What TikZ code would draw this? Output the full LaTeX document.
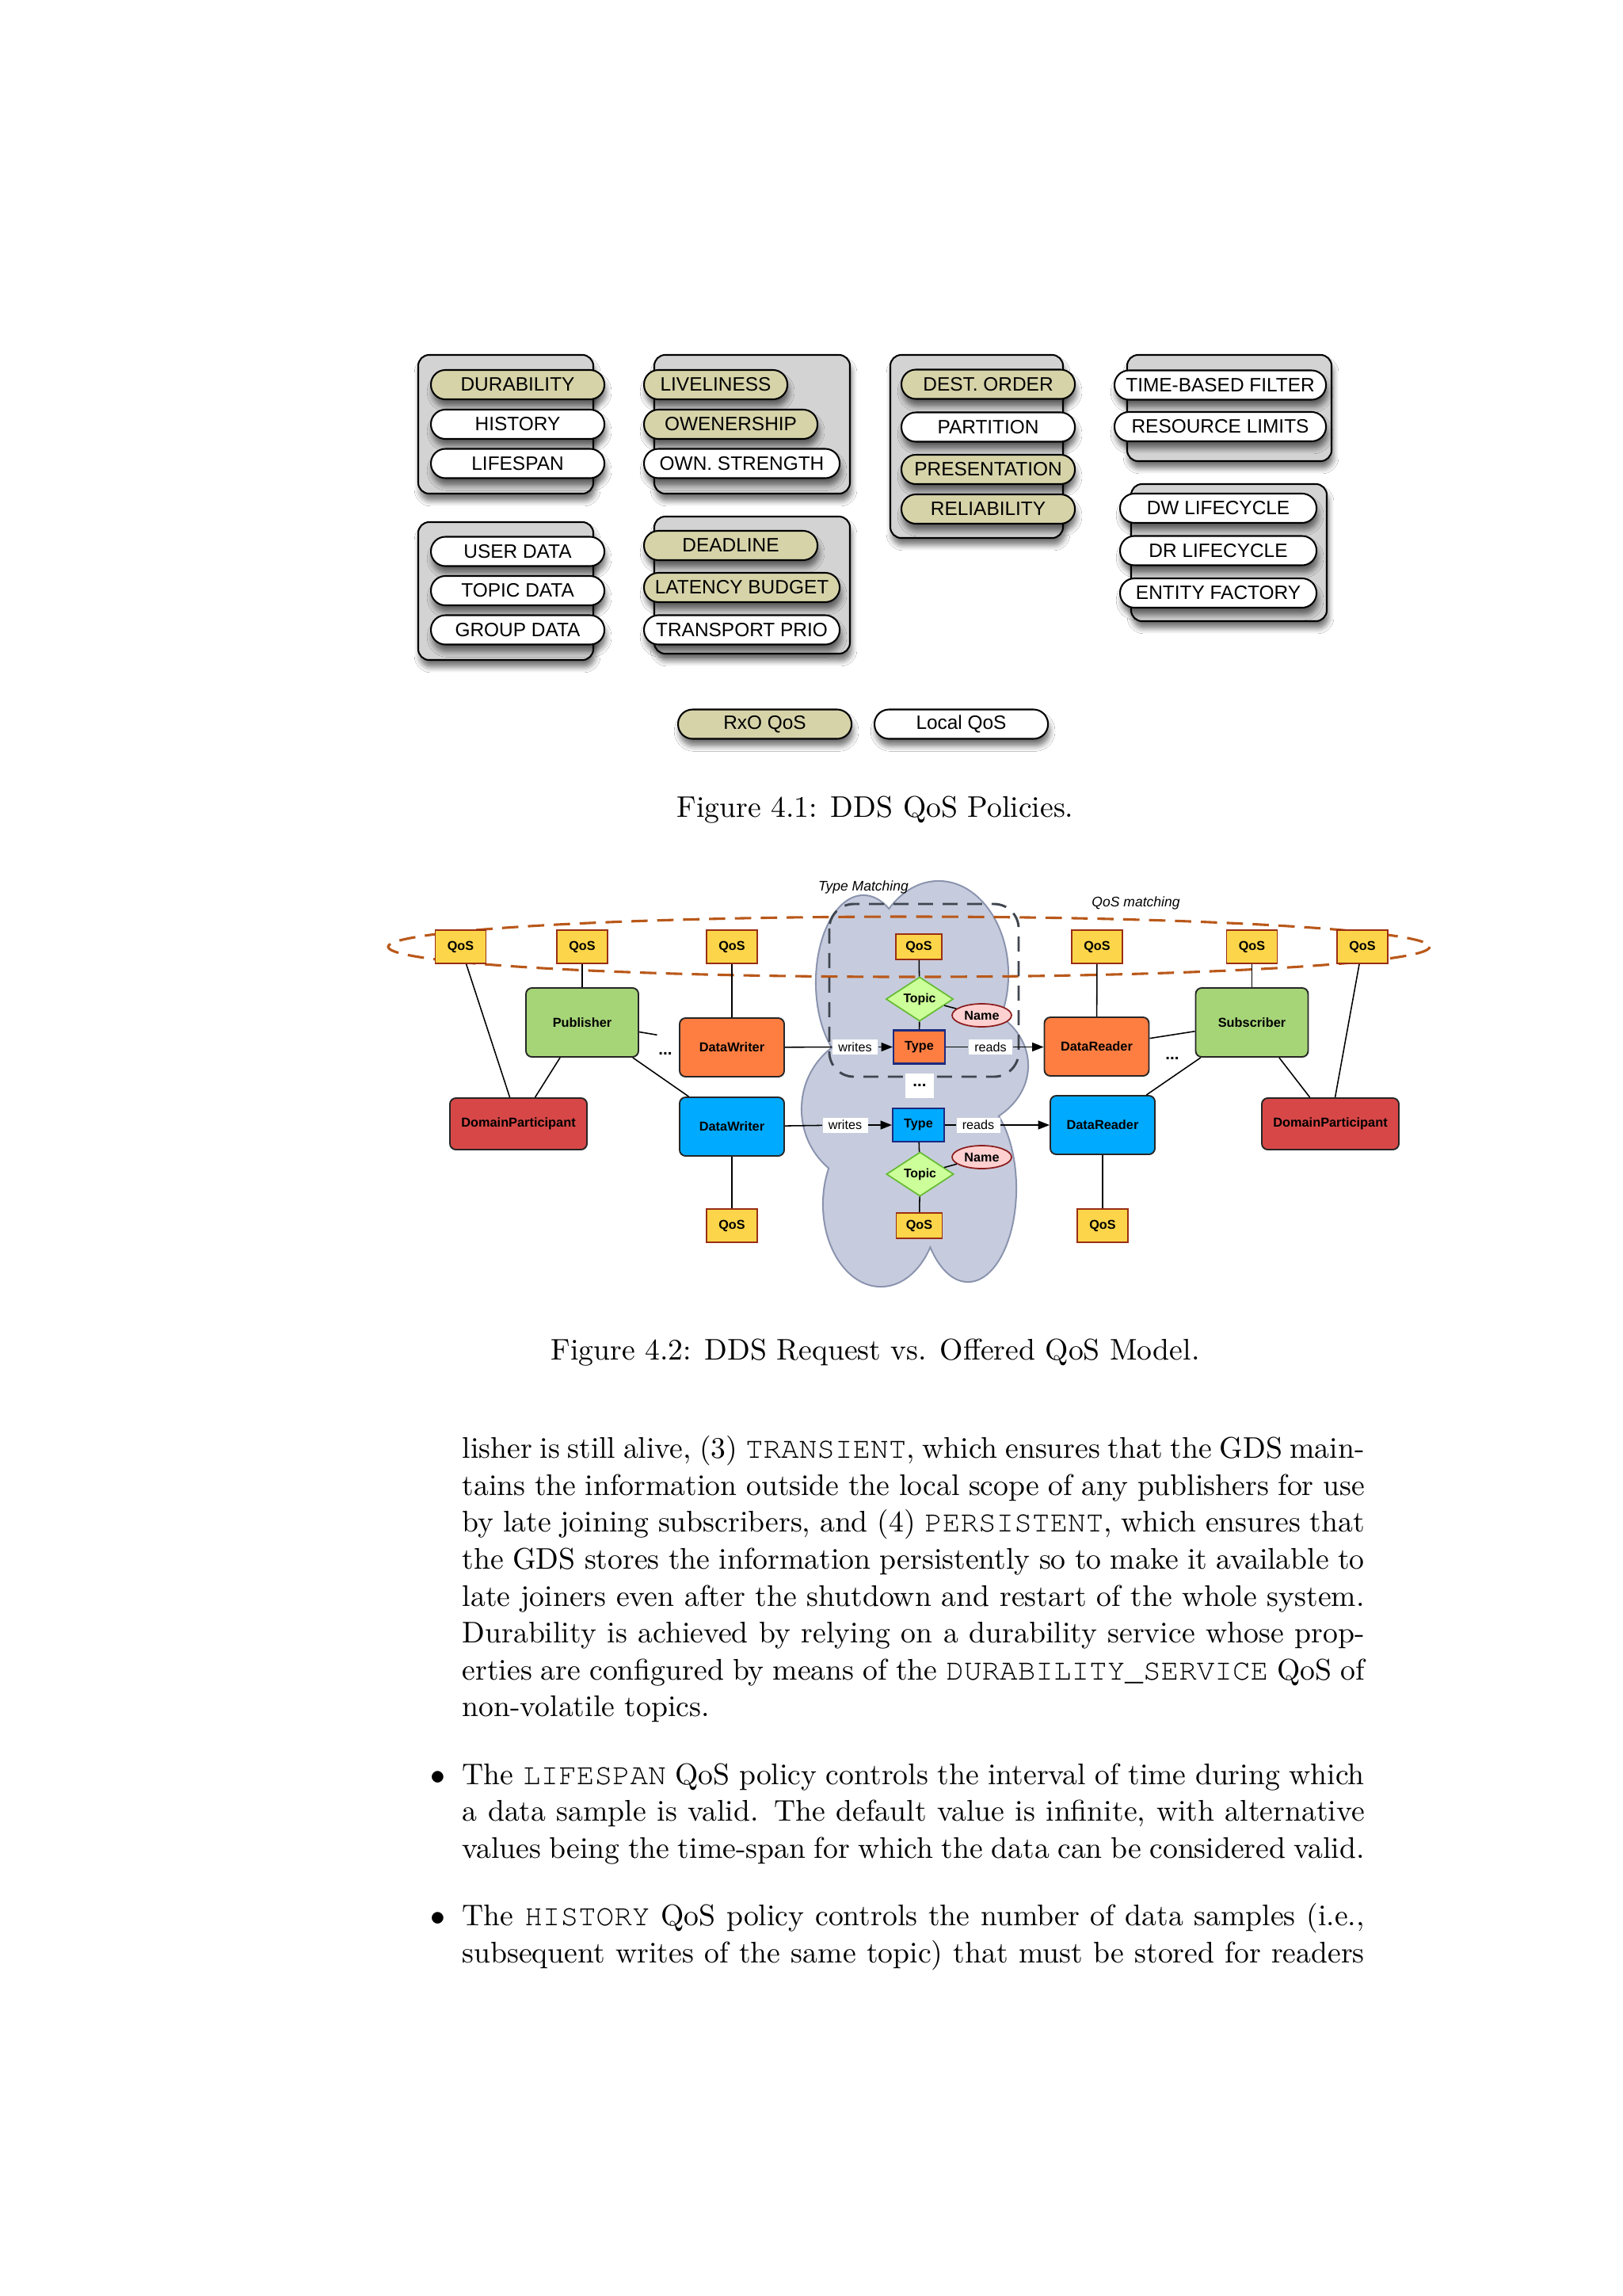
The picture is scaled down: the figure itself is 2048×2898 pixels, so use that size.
\documentclass[tikz,border=0pt]{standalone}
\usepackage[T1]{fontenc}
\usepackage{fontspec}
\newfontfamily\hv{Liberation Sans}
\usepackage{tikz}
\usetikzlibrary{arrows.meta, shapes.geometric, shadows.blur, calc}

\definecolor{khaki}{HTML}{D6D3A9}
\definecolor{boxgray}{HTML}{D3D3D3}
\definecolor{qosyellow}{HTML}{FDD54A}
\definecolor{qosedge}{HTML}{9A2E14}
\definecolor{entgreen}{HTML}{A6D578}
\definecolor{entorange}{HTML}{FE7E42}
\definecolor{entblue}{HTML}{00AAFF}
\definecolor{entred}{HTML}{D84747}
\definecolor{typeedge}{HTML}{1C2A80}
\definecolor{topicfill}{HTML}{CCFF99}
\definecolor{topicedge}{HTML}{66BB33}
\definecolor{namefill}{HTML}{FFD0D0}
\definecolor{nameedge}{HTML}{8B1C1C}
\definecolor{cloudfill}{HTML}{C6CCDD}
\definecolor{cloudedge}{HTML}{8A93AE}
\definecolor{matchorange}{HTML}{B9581A}
\definecolor{matchgray}{HTML}{40464F}

\newcommand{\pu}{0.29066pt}
\newcommand{\jline}[1]{\makebox[331.1pt][s]{#1}}
\newcommand{\qosword}[1]{{\fontencoding{T1}\fontfamily{pcr}\selectfont #1}}

\begin{document}
\begin{tikzpicture}[x=\pu, y=-\pu, >=Stealth,
  softshadow/.style={blur shadow={shadow xshift=0.6pt, shadow yshift=-2.6pt,
      shadow blur radius=2pt, shadow blur steps=6, shadow opacity=55}},
  groupbox/.style={draw=black, line width=0.6pt, fill=boxgray, rounded corners=4pt, softshadow},
  pill/.style={draw=black, line width=0.6pt, rounded corners=5.3pt, minimum height=37*\pu,
      inner sep=0pt, anchor=west, font=\hv\fontsize{7.1}{8}\selectfont, softshadow},
  rxo/.style={pill, fill=khaki},
  loc/.style={pill, fill=white},
  qos/.style={draw=qosedge, fill=qosyellow, line width=0.5pt, minimum width=64*\pu,
      minimum height=42*\pu, inner sep=0pt, font=\hv\bfseries\fontsize{4.7}{5}\selectfont},
  qossmall/.style={qos, minimum width=58*\pu, minimum height=32*\pu},
  entity/.style={draw=black!85, line width=0.55pt, rounded corners=2.2pt, inner sep=0pt,
      font=\hv\bfseries\fontsize{4.75}{5}\selectfont},
  cont/.style={entity, fill=entgreen, minimum width=142*\pu, minimum height=87*\pu},
  endpoint/.style={entity, minimum width=132*\pu, minimum height=74*\pu},
  participant/.style={entity, fill=entred, minimum width=173*\pu, minimum height=65*\pu},
  typebox/.style={draw=typeedge, line width=0.6pt, minimum width=65*\pu, minimum height=42*\pu,
      inner sep=0pt, font=\hv\bfseries\fontsize{4.7}{5}\selectfont},
  topic/.style={diamond, draw=topicedge, fill=topicfill, line width=0.5pt, minimum width=85*\pu,
      minimum height=42*\pu, inner sep=0pt, font=\hv\bfseries\fontsize{4.6}{5}\selectfont},
  tname/.style={ellipse, draw=nameedge, fill=namefill, line width=0.5pt, minimum width=75*\pu,
      minimum height=29*\pu, inner sep=0pt, font=\hv\bfseries\fontsize{4.7}{5}\selectfont},
  verb/.style={fill=white, minimum width=57*\pu, minimum height=19*\pu, inner sep=0pt,
      font=\hv\fontsize{4.7}{5}\selectfont},
  link/.style={draw=black, line width=0.45pt},
  flow/.style={link, -{Triangle[length=4.2pt, width=3.2pt]}},
  note/.style={font=\hv\itshape\fontsize{5.1}{6}\selectfont, inner sep=0pt},
  bodyline/.style={anchor=base west, inner sep=0pt, font=\fontsize{10.95}{13.6}\selectfont},
  caption/.style={anchor=base, inner sep=0pt, font=\fontsize{10.95}{13.6}\selectfont}]

  \useasboundingbox (0,0) rectangle (2048,2898);
  \fill[white] (0,0) rectangle (2048,2898);

  % ---- Figure 4.1: policy groups ----
  \draw[groupbox] (528,448) rectangle (749,623);
  \node[rxo, minimum width=219*\pu] (durability) at (543,485.5) {DURABILITY};
  \node[loc, minimum width=219*\pu] (history) at (543,535.5) {HISTORY};
  \node[loc, minimum width=219*\pu] (lifespan) at (543,585) {LIFESPAN};

  \draw[groupbox] (826,448) rectangle (1073,623);
  \node[rxo, minimum width=181*\pu] (liveliness) at (812,485.5) {LIVELINESS};
  \node[rxo, minimum width=219*\pu] (ownership) at (812,535.5) {OWENERSHIP};
  \node[loc, minimum width=247*\pu] (ownstrength) at (812,585) {OWN. STRENGTH};

  \draw[groupbox] (528,659) rectangle (749,833);
  \node[loc, minimum width=219*\pu] (userdata) at (543,696) {USER DATA};
  \node[loc, minimum width=219*\pu] (topicdata) at (543,745.5) {TOPIC DATA};
  \node[loc, minimum width=219*\pu] (groupdata) at (543,795) {GROUP DATA};

  \draw[groupbox] (826,652) rectangle (1073,825);
  \node[rxo, minimum width=219*\pu] (deadline) at (812,688.5) {DEADLINE};
  \node[rxo, minimum width=247*\pu] (latency) at (812,741.5) {LATENCY BUDGET};
  \node[loc, minimum width=247*\pu] (transport) at (812,795) {TRANSPORT PRIO};

  \draw[groupbox] (1124,448) rectangle (1342,679);
  \node[rxo, minimum width=219*\pu] (destorder) at (1137,485) {DEST. ORDER};
  \node[loc, minimum width=219*\pu] (partition) at (1137,539) {PARTITION};
  \node[rxo, minimum width=219*\pu] (presentation) at (1137,592.5) {PRESENTATION};
  \node[rxo, minimum width=219*\pu] (reliability) at (1137,642.5) {RELIABILITY};

  \draw[groupbox] (1423,448) rectangle (1681,582);
  \node[loc, minimum width=267*\pu] (timefilter) at (1406,486) {TIME-BASED FILTER};
  \node[loc, minimum width=267*\pu] (reslimits) at (1406,538.5) {RESOURCE LIMITS};

  \draw[groupbox] (1428,611) rectangle (1675,784);
  \node[loc, minimum width=248*\pu] (dwlife) at (1413,641.5) {DW LIFECYCLE};
  \node[loc, minimum width=248*\pu] (drlife) at (1413,695) {DR LIFECYCLE};
  \node[loc, minimum width=248*\pu] (entityfactory) at (1413,748.5) {ENTITY FACTORY};

  % ---- legend ----
  \node[rxo, minimum width=219*\pu] (rxokey) at (855,914) {RxO QoS};
  \node[loc, minimum width=219*\pu] (localkey) at (1103,914) {Local QoS};

  \node[caption] (cap1) at (1105,1031) {Figure 4.1: DDS QoS Policies.};

  % ---- Figure 4.2: cloud of topic types ----
  \fill[cloudfill, preaction={draw=cloudedge, line width=1.2pt}]
    (1090,1240) ellipse [x radius=59, y radius=109]
    (1185,1230) ellipse [x radius=87, y radius=117]
    (1200,1345) ellipse [x radius=97, y radius=80]
    (1105,1400) ellipse [x radius=92, y radius=95]
    (1222,1500) ellipse [x radius=60, y radius=117]
    (1112,1520) ellipse [x radius=72, y radius=103]
    (1160,1380) ellipse [x radius=100, y radius=190];

  % ---- matching regions ----
  \draw[matchorange, line width=0.9pt, dash pattern=on 6pt off 3.5pt]
    (1147.5,1195) ellipse [x radius=657.5, y radius=38];
  \draw[matchgray, line width=0.85pt, dash pattern=on 5.5pt off 3.5pt, rounded corners=9pt]
    (1047,1141) rectangle (1286,1359);
  \node[note] (typematch) at (1090,1120) {Type Matching};
  \node[note] (qosmatch) at (1434,1140) {QoS matching};

  % ---- QoS boxes ----
  \node[qos] (q1) at (581.5,1195) {QoS};
  \node[qos] (q2) at (735,1195) {QoS};
  \node[qos] (q3) at (924,1195) {QoS};
  \node[qossmall] (qT) at (1160,1195) {QoS};
  \node[qos] (q4) at (1385,1195) {QoS};
  \node[qos] (q5) at (1580.5,1195) {QoS};
  \node[qos] (q6) at (1720,1195) {QoS};
  \node[qos] (qDW) at (924,1547) {QoS};
  \node[qossmall] (qB) at (1160.5,1547) {QoS};
  \node[qos] (qDR) at (1392,1547) {QoS};

  % ---- entities ----
  \node[cont] (pub) at (735,1290.5) {Publisher};
  \node[cont] (sub) at (1580.5,1290.5) {Subscriber};
  \node[endpoint, fill=entorange] (dwO) at (924,1322) {DataWriter};
  \node[endpoint, fill=entblue] (dwB) at (924,1422) {DataWriter};
  \node[endpoint, fill=entorange] (drO) at (1384.5,1321) {DataReader};
  \node[endpoint, fill=entblue] (drB) at (1392,1420) {DataReader};
  \node[participant] (dpL) at (654.5,1418.5) {DomainParticipant};
  \node[participant] (dpR) at (1679.5,1418.5) {DomainParticipant};

  % ---- topics ----
  \node[typebox, fill=entorange] (typeO) at (1160.5,1321.5) {Type};
  \node[typebox, fill=entblue] (typeB) at (1159.5,1420) {Type};
  \node[topic] (topicT) at (1161,1261) {Topic};
  \node[topic] (topicB) at (1161.5,1482) {Topic};
  \node[tname] (nameT) at (1239.5,1281.5) {Name};
  \node[tname] (nameB) at (1239.5,1460.5) {Name};
  \node[fill=white, minimum width=36*\pu, minimum height=31*\pu, inner sep=0pt,
    font=\hv\bfseries\fontsize{6}{6}\selectfont] (dotsT) at (1161,1370) {...};
  \node[font=\hv\bfseries\fontsize{6}{6}\selectfont, inner sep=0pt] (dotsP) at (840,1330) {...};
  \node[font=\hv\bfseries\fontsize{6}{6}\selectfont, inner sep=0pt] (dotsS) at (1480,1336) {...};

  \node[verb] (wrT) at (1079.5,1321.5) {writes};
  \node[verb, minimum width=55*\pu] (rdT) at (1250.5,1321.5) {reads};
  \node[verb] (wrB) at (1067,1420) {writes};
  \node[verb, minimum width=55*\pu] (rdB) at (1235,1420) {reads};

  % ---- connectors ----
  \coordinate (pubstub) at ($(pub)!0.5!(dwO)$);
  \draw[link] (q1) -- (dpL);
  \draw[link] (q2) -- (pub);
  \draw[link] (pub) -- (dpL);
  \draw[link] (pub) -- (dwB);
  \draw[link] (pub) -- (pubstub);
  \draw[link] (q3) -- (dwO);
  \draw[link] (dwO) -- (wrT);
  \draw[flow] (wrT) -- (typeO);
  \draw[link] (typeO) -- (rdT);
  \draw[flow] (rdT) -- (rdT -| drO.west);
  \draw[link] (qT) -- (topicT) -- (typeO);
  \draw[link] (topicT) -- (nameT);
  \draw[link] (dwB) -- (wrB);
  \draw[flow] (wrB) -- (typeB);
  \draw[link] (typeB) -- (rdB);
  \draw[flow] (rdB) -- (drB);
  \draw[link] (typeB) -- (topicB) -- (qB);
  \draw[link] (topicB) -- (nameB);
  \draw[link] (dwB) -- (qDW);
  \draw[link] (drB) -- (qDR);
  \draw[link] (q4) -- (drO);
  \draw[link] (q5) -- (sub);
  \draw[link] (sub) -- (drO);
  \draw[link] (sub) -- (drB);
  \draw[link] (sub) -- (dpR);
  \draw[link] (q6) -- (dpR);

  \node[caption] (cap2) at (1105,1716) {Figure 4.2: DDS Request vs. Offered QoS Model.};

  % ---- body text ----
  \node[bodyline] (l1) at (583,1840) {\jline{lisher is still alive, (3) \qosword{TRANSIENT}, which ensures that the GDS main-}};
  \node[bodyline] (l2) at (583,1887) {\jline{tains the information outside the local scope of any publishers for use}};
  \node[bodyline] (l3) at (583,1933) {\jline{by late joining subscribers, and (4) \qosword{PERSISTENT}, which ensures that}};
  \node[bodyline] (l4) at (583,1980) {\jline{the GDS stores the information persistently so to make it available to}};
  \node[bodyline] (l5) at (583,2027) {\jline{late joiners even after the shutdown and restart of the whole system.}};
  \node[bodyline] (l6) at (583,2073) {\jline{Durability is achieved by relying on a durability service whose prop-}};
  \node[bodyline] (l7) at (583,2120) {\jline{erties are configured by means of the \qosword{DURABILITY\_SERVICE} QoS of}};
  \node[bodyline] (l8) at (583,2166) {non-volatile topics.};

  \node[bodyline, anchor=base] (b1) at (553,2252) {$\bullet$};
  \node[bodyline] (l9) at (583,2252) {\jline{The \qosword{LIFESPAN} QoS policy controls the interval of time during which}};
  \node[bodyline] (l10) at (583,2298) {\jline{a data sample is valid. The default value is infinite, with alternative}};
  \node[bodyline] (l11) at (583,2345) {\jline{values being the time-span for which the data can be considered valid.}};

  \node[bodyline, anchor=base] (b2) at (553,2430) {$\bullet$};
  \node[bodyline] (l12) at (583,2430) {\jline{The \qosword{HISTORY} QoS policy controls the number of data samples (i.e.,}};
  \node[bodyline] (l13) at (583,2477) {\jline{subsequent writes of the same topic) that must be stored for readers}};
\end{tikzpicture}
\end{document}
